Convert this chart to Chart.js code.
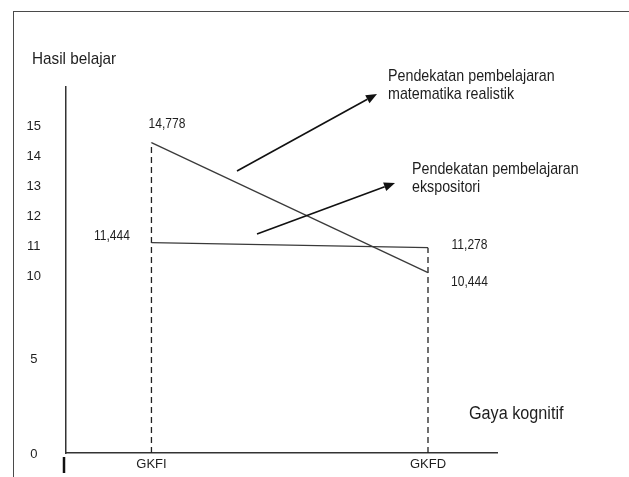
<!DOCTYPE html>
<html><head><meta charset="utf-8">
<script src="https://cdn.jsdelivr.net/npm/chart.js@4/dist/chart.umd.min.js"></script>
<style>
html,body{margin:0;padding:0;background:#fff;}
#wrap{position:relative;width:629px;height:477px;overflow:hidden;background:#fff;}
#frame{position:absolute;left:13px;top:11px;width:700px;height:600px;border-left:1.5px solid #4a4a4a;border-top:1.5px solid #4a4a4a;pointer-events:none;}
</style></head><body>
<div id="wrap"><canvas id="c" width="629" height="477"></canvas><div id="frame"></div></div>
<script>
// ---- data ----
const categories = ['GKFI', 'GKFD'];
const realistik = [14.778, 10.444];    // Pendekatan pembelajaran matematika realistik
const ekspositori = [11.444, 11.278];  // Pendekatan pembelajaran ekspositori
const yTicks = [0, 5, 10, 11, 12, 13, 14, 15];
const seriesNames = ['Pendekatan pembelajaran|matematika realistik', 'Pendekatan pembelajaran|ekspositori'];
const yTitle = 'Hasil belajar';
const xTitle = 'Gaya kognitif';

// ---- non-uniform value axis as drawn in the figure (value -> fraction of axis height) ----
const yScaleKnots = [[0, 0], [5, 0.2295], [10, 0.4563], [15, 0.8661], [16.633, 1]];

class PiecewiseScale extends Chart.LinearScale {
  getPixelForValue(value) {
    const k = yScaleKnots;
    let i = 0;
    while (i < k.length - 2 && value > k[i + 1][0]) i++;
    const [v0, f0] = k[i], [v1, f1] = k[i + 1];
    const f = f0 + (value - v0) * (f1 - f0) / (v1 - v0);
    return this.getPixelForDecimal(f);
  }
  getValueForPixel(pixel) {
    const f = this.getDecimalForPixel(pixel);
    const k = yScaleKnots;
    let i = 0;
    while (i < k.length - 2 && f > k[i + 1][1]) i++;
    const [v0, f0] = k[i], [v1, f1] = k[i + 1];
    return v0 + (f - f0) * (v1 - v0) / (f1 - f0);
  }
}
PiecewiseScale.id = 'piecewise';
PiecewiseScale.defaults = Chart.LinearScale.defaults;
Chart.register(PiecewiseScale);

const FONT = '"Liberation Sans", Arial, sans-serif';
const INK = '#1e1e1e';

const fmt = v => v.toFixed(3).replace('.', ',');
const toPts = arr => arr.map((y, i) => ({x: i, y}));
const maxAt = categories.map((_, i) => Math.max(realistik[i], ekspositori[i]));

const datasets = [
  {data: toPts(realistik), borderColor: '#3a3a3a', borderWidth: 1.3},
  {data: toPts(ekspositori), borderColor: '#3a3a3a', borderWidth: 1.3},
];
categories.forEach((c, i) => {
  datasets.push({data: [{x: i, y: 0}, {x: i, y: maxAt[i]}], borderColor: '#222', borderWidth: 1.3, borderDash: [6, 4]});
});

// draw condensed text (the figure uses a narrow sans face)
function narrowText(ctx, text, x, y, size, sx, align) {
  ctx.save();
  ctx.font = size + 'px ' + FONT;
  const w = ctx.measureText(text).width * sx;
  let left = x;
  if (align === 'center') left = x - w / 2;
  ctx.translate(left, y);
  ctx.scale(sx, 1);
  ctx.textAlign = 'left';
  ctx.fillText(text, 0, 0);
  ctx.restore();
}

const annot = {
  id: 'annot',
  afterDatasetsDraw(chart) {
    const ctx = chart.ctx;
    ctx.save();
    ctx.fillStyle = INK;
    ctx.textBaseline = 'alphabetic';
    // value labels placed beside their points
    const offs = [[[15.5, -14.4], [41.5, 13.3]], [[-39.5, -2.7], [41.5, 1.3]]];
    [realistik, ekspositori].forEach((arr, d) => {
      const meta = chart.getDatasetMeta(d);
      arr.forEach((v, i) => {
        const p = meta.data[i];
        narrowText(ctx, fmt(v), p.x + offs[d][i][0], p.y + offs[d][i][1], 14, 0.86, 'center');
      });
    });
    // titles
    narrowText(ctx, yTitle, 32, 64, 17, 0.9, 'left');
    narrowText(ctx, xTitle, 469, 419, 18, 0.9, 'left');
    // series notes with arrows
    const notes = [
      {text: seriesNames[0], x: 388, y: 81, from: [237, 171], to: [377, 94]},
      {text: seriesNames[1], x: 412, y: 174, from: [257, 234], to: [395, 183]},
    ];
    notes.forEach(n => {
      n.text.split('|').forEach((t, j) => narrowText(ctx, t, n.x, n.y + j * 18, 17, 0.84, 'left'));
      const [x0, y0] = n.from, [x1, y1] = n.to;
      const a = Math.atan2(y1 - y0, x1 - x0);
      const L = 11, W = 4.5;
      const bx = x1 - L * Math.cos(a), by = y1 - L * Math.sin(a);
      ctx.strokeStyle = '#111';
      ctx.lineWidth = 1.6;
      ctx.beginPath(); ctx.moveTo(x0, y0); ctx.lineTo(bx, by); ctx.stroke();
      ctx.fillStyle = '#111';
      ctx.beginPath();
      ctx.moveTo(x1, y1);
      ctx.lineTo(bx + W * Math.sin(a), by - W * Math.cos(a));
      ctx.lineTo(bx - W * Math.sin(a), by + W * Math.cos(a));
      ctx.closePath(); ctx.fill();
      ctx.fillStyle = INK;
    });
    // small origin mark
    const ca = chart.chartArea;
    ctx.strokeStyle = '#111';
    ctx.lineWidth = 2.5;
    ctx.beginPath(); ctx.moveTo(ca.left - 2, ca.bottom + 4); ctx.lineTo(ca.left - 2, ca.bottom + 20); ctx.stroke();
    ctx.restore();
  }
};

new Chart(document.getElementById('c'), {
  type: 'line',
  data: {datasets},
  options: {
    responsive: false,
    animation: false,
    layout: {padding: {left: 0, top: 87, right: 132, bottom: 0}},
    elements: {point: {radius: 0}, line: {tension: 0}},
    plugins: {legend: {display: false}, tooltip: {enabled: false}},
    scales: {
      x: {
        type: 'linear', min: -0.309, max: 1.2495,
        afterBuildTicks: s => { s.ticks = categories.map((_, i) => ({value: i})); },
        afterFit: s => { s.height = 24; s.paddingLeft = 0; s.paddingRight = 0; },
        grid: {display: false, drawTicks: false},
        border: {display: true, color: '#333', width: 1.5},
        ticks: {callback: v => categories[v], padding: 4, color: INK, font: {family: FONT, size: 13}, maxRotation: 0, autoSkip: false}
      },
      y: {
        type: 'piecewise', min: 0, max: 16.633,
        afterBuildTicks: s => { s.ticks = yTicks.map(v => ({value: v})); },
        afterFit: s => { s.width = 66; s.paddingTop = 0; s.paddingBottom = 0; },
        grid: {display: false, drawTicks: false},
        border: {display: true, color: '#333', width: 1.5},
        ticks: {
          // the origin label sits level with the x axis in the figure
          callback: v => v === 0 ? ['', String(v)] : String(v),
          font: c => (c.tick && c.tick.value === 0) ? {family: FONT, size: 13, lineHeight: 1.7} : {family: FONT, size: 13},
          padding: 25, crossAlign: 'center', labelOffset: -10, color: INK, autoSkip: false
        }
      }
    }
  },
  plugins: [annot]
});
</script>
</body></html>
